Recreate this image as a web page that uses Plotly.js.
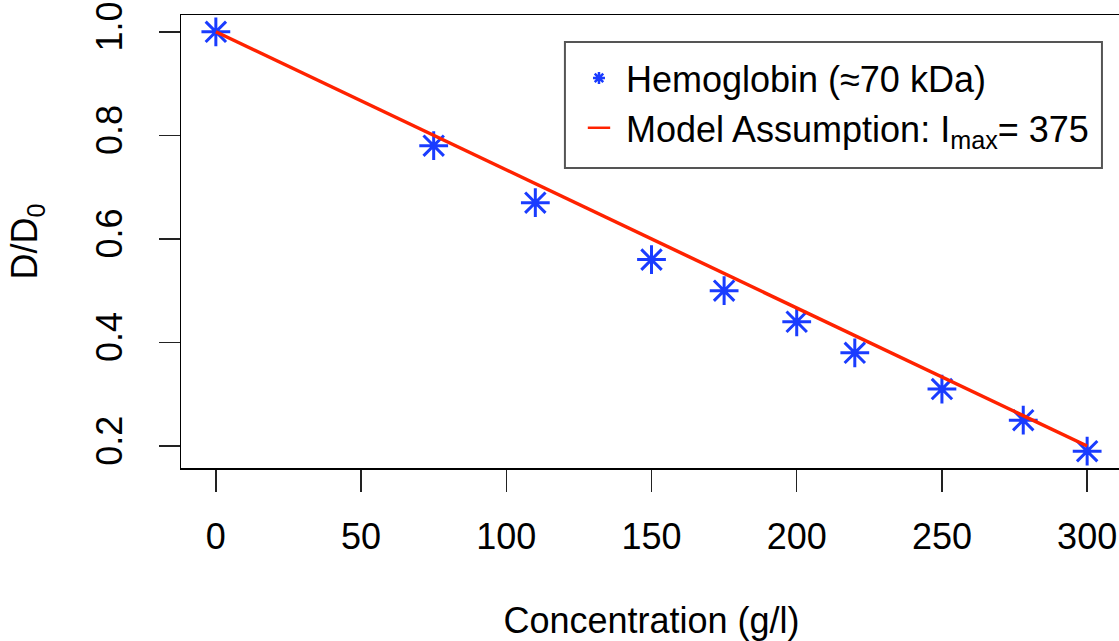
<!DOCTYPE html>
<html>
<head>
<meta charset="utf-8">
<script src="https://cdn.plot.ly/plotly-3.0.1.min.js"></script>
<style>
html,body{margin:0;padding:0;overflow:hidden;background:#fff;}
#chart{width:1130px;height:641px;}
</style>
</head>
<body>
<div id="chart"></div>
<script>
// Data
const concentration = [0, 75, 110, 150, 175, 200, 220, 250, 278, 300];
const ratio = [1.00, 0.78, 0.67, 0.56, 0.50, 0.44, 0.38, 0.31, 0.25, 0.19];
const modelX = [0, 300];
const Imax = 375;
const modelY = modelX.map(c => 1 - c / Imax);
const xTicks = [0, 50, 100, 150, 200, 250, 300];
const yTicks = [0.2, 0.4, 0.6, 0.8, 1.0];
const yTickText = ['0.2', '0.4', '0.6', '0.8', '1.0'];

const FONT = 'Liberation Sans, Arial, Helvetica, sans-serif';
const FS = 36;
const BLUE = '#1a3cff';
const RED = '#ff2200';

const traces = [
  {
    x: concentration, y: ratio, mode: 'markers', type: 'scatter',
    name: 'Hemoglobin (≈70 kDa)', showlegend: false, legendgroup: 'h',
    marker: {symbol: 'asterisk-open', size: 24, color: BLUE, line: {color: BLUE, width: 3}},
    hoverinfo: 'x+y'
  },
  {
    x: modelX, y: modelY, mode: 'lines', type: 'scatter',
    name: 'Model Assumption: I<sub>max</sub>= ' + Imax, showlegend: false, legendgroup: 'm',
    line: {color: RED, width: 3.5}
  },
  {
    x: [null], y: [null], mode: 'markers', type: 'scatter',
    name: 'Hemoglobin (≈70 kDa)', legendgroup: 'h',
    marker: {symbol: 'asterisk-open', size: 10, color: BLUE, line: {color: BLUE, width: 2.5}}
  },
  {
    x: [null], y: [null], mode: 'markers', type: 'scatter',
    name: 'Model Assumption: I<sub>max</sub>= ' + Imax, legendgroup: 'm',
    marker: {symbol: 'line-ew-open', size: 20, color: RED, line: {color: RED, width: 2.5}}
  }
];

const layout = {
  width: 1130, height: 641,
  margin: {l: 181, r: 8, t: 15, b: 173, pad: 0},
  paper_bgcolor: '#fff', plot_bgcolor: '#fff',
  font: {family: FONT, size: FS, color: '#000'},
  showlegend: true,
  legend: {
    x: 0.4155, y: 0.927, xanchor: 'left', yanchor: 'top',
    borderwidth: 0, bgcolor: 'rgba(0,0,0,0)',
    font: {family: FONT, size: FS, color: '#000'},
    tracegroupgap: 0, itemwidth: 44
  },
  shapes: [
    {type: 'rect', xref: 'paper', yref: 'paper', x0: 0.408, x1: 0.9787, y0: 0.6623, y1: 0.9404,
     line: {color: '#555', width: 2}, fillcolor: '#fff', layer: 'below'}
  ],
  xaxis: {
    range: [-12, 312], tickvals: xTicks, ticktext: xTicks.map(String),
    ticks: 'outside', ticklen: 22, tickwidth: 1.5, tickcolor: '#222',
    showline: true, linecolor: '#000', linewidth: 1.5, mirror: true,
    showgrid: false, zeroline: false, automargin: false,
    tickfont: {family: FONT, size: FS, color: '#000'},
    ticklabelstandoff: 14,
    title: {text: 'Concentration (g/l)', font: {family: FONT, size: FS, color: '#000'}, standoff: 60}
  },
  yaxis: {
    range: [0.1576, 1.0324], tickvals: yTicks, ticktext: yTickText,
    ticks: 'outside', ticklen: 21, tickwidth: 1.5, tickcolor: '#222', tickangle: -90,
    showline: true, linecolor: '#000', linewidth: 1.5, mirror: true,
    showgrid: false, zeroline: false, automargin: false,
    tickfont: {family: FONT, size: FS, color: '#000'},
    ticklabelstandoff: 22,
    title: {text: 'D/D<sub>0</sub>', font: {family: FONT, size: FS, color: '#000'}, standoff: 40}
  }
};

Plotly.newPlot('chart', traces, layout, {displayModeBar: false, staticPlot: true});
</script>
</body>
</html>
